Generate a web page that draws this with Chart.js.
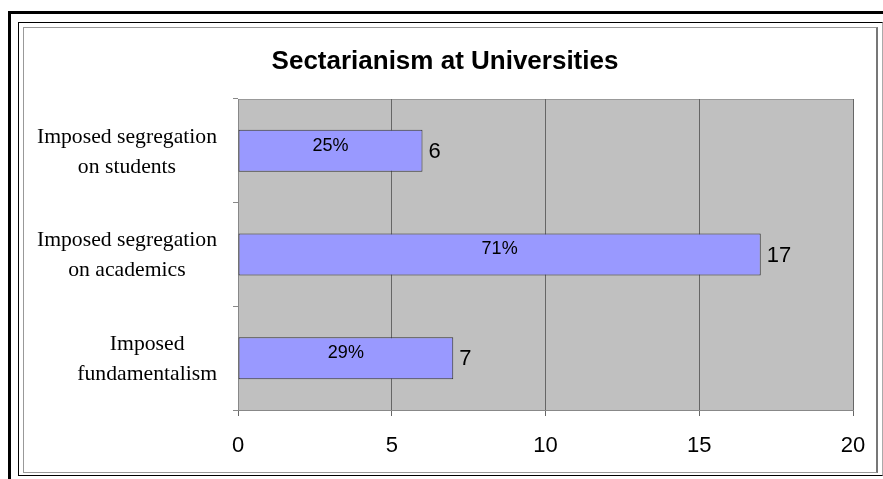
<!DOCTYPE html>
<html>
<head>
<meta charset="utf-8">
<script src="https://cdn.jsdelivr.net/npm/chart.js@4.4.1/dist/chart.umd.min.js"></script>
<style>
  body { margin: 0; background: #fff; }
  #wrap { position: relative; width: 883px; height: 479px; overflow: hidden; background: #fff; }
  .frame { position: absolute; box-sizing: border-box; }
  #f1 { left: 8px; top: 11px; width: 900px; height: 500px; border: 3px solid #000; }
  #f2 { left: 18px; top: 22px; width: 865px; height: 454px; border: 1px solid #000; border-right-color: #aaa; }
  #f3 { left: 23px; top: 27px; width: 855px; height: 446px; border: 1px solid #999; border-right: 2px solid #777; }
  #c { position: absolute; left: 0; top: 0; }
</style>
</head>
<body>
<div id="wrap">
  <div class="frame" id="f1"></div>
  <div class="frame" id="f2"></div>
  <div class="frame" id="f3"></div>
  <canvas id="c" width="883" height="479"></canvas>
</div>
<script>
// données du graphique
const categories = [
    ['Imposed segregation', 'on students'],
    ['Imposed segregation', 'on academics'],
    ['Imposed', 'fundamentalism']
];
const counts = [6, 17, 7];
const shares = ['25%', '71%', '29%'];
const xMin = 0, xMax = 20, xStep = 5;
const chartTitle = 'Sectarianism at Universities';

//Fond gris + bordure de la zone de tracé
const plotBg = {
    id: 'plotBg',
    beforeDraw(chart) {
        const { ctx, chartArea: a } = chart;
        ctx.save();
        ctx.fillStyle = '#c0c0c0';
        ctx.fillRect(a.left, a.top, a.right - a.left, a.bottom - a.top);
        ctx.strokeStyle = '#999';
        ctx.lineWidth = 1;
        ctx.beginPath();
        ctx.moveTo(a.left, a.top + 0.5);
        ctx.lineTo(a.right + 0.5, a.top + 0.5);
        ctx.lineTo(a.right + 0.5, a.bottom);
        ctx.stroke();
        ctx.restore();
    }
};

//Libellés des catégories (centrés dans un bloc calé à droite)
const catLabels = {
    id: 'catLabels',
    afterDraw(chart) {
        const { ctx, chartArea: a } = chart;
        const y = chart.scales.y;
        ctx.save();
        ctx.font = '21.7px "Liberation Serif", "Times New Roman", serif';
        ctx.fillStyle = '#000';
        ctx.textAlign = 'center';
        ctx.textBaseline = 'middle';
        const lh = 30;
        categories.forEach((lines, i) => {
            const cy = y.getPixelForValue(i) + 1;
            const w = Math.max(...lines.map(l => ctx.measureText(l).width));
            const cx = a.left - 21 - w / 2;
            const y0 = cy - (lines.length - 1) * lh / 2;
            lines.forEach((l, k) => ctx.fillText(l, cx, y0 + k * lh));
        });
        ctx.restore();
    }
};

//Etiquettes des barres : pourcentage dedans, valeur à droite
const barLabels = {
    id: 'barLabels',
    afterDatasetsDraw(chart) {
        const { ctx } = chart;
        const meta = chart.getDatasetMeta(0);
        ctx.save();
        ctx.fillStyle = '#000';
        ctx.textBaseline = 'middle';
        meta.data.forEach((bar, i) => {
            ctx.font = '18px "Liberation Sans", Arial, sans-serif';
            ctx.textAlign = 'center';
            ctx.fillText(shares[i], (bar.base + bar.x) / 2, bar.y - 5);
            ctx.font = '22px "Liberation Sans", Arial, sans-serif';
            ctx.textAlign = 'left';
            ctx.fillText(String(counts[i]), bar.x + 6, bar.y + 1);
        });
        ctx.restore();
    }
};

const ctx = document.getElementById('c').getContext('2d');
new Chart(ctx, {
    type: 'bar',
    data: {
        labels: categories.map(c => c.join(' ')),
        datasets: [{
            data: counts,
            backgroundColor: '#9999ff',
            borderColor: '#333',
            borderWidth: 1,
            borderSkipped: false,
            barPercentage: 0.405,
            categoryPercentage: 1
        }]
    },
    options: {
        indexAxis: 'y',
        responsive: false,
        animation: false,
        events: [],
        layout: { padding: { left: 37, right: 30, top: 0, bottom: 0 } },
        plugins: {
            legend: { display: false },
            tooltip: { enabled: false },
            title: {
                display: true,
                text: chartTitle,
                color: '#000',
                font: { family: '"Liberation Sans", Arial, sans-serif', size: 26, weight: 'bold', lineHeight: 1.2 },
                padding: { top: 46.4, bottom: 21.4 }
            }
        },
        scales: {
            x: {
                min: xMin,
                max: xMax,
                afterFit: s => { s.height = 69; },
                ticks: {
                    stepSize: xStep,
                    color: '#000',
                    padding: 17,
                    font: { family: '"Liberation Sans", Arial, sans-serif', size: 22 }
                },
                grid: { color: '#666', tickLength: 6, lineWidth: 1 },
                border: { color: '#888' }
            },
            y: {
                afterFit: s => { s.width = 201; },
                ticks: { display: false },
                grid: { drawOnChartArea: false, tickLength: 5, color: '#888', offset: true },
                border: { color: '#888' }
            }
        }
    },
    plugins: [plotBg, catLabels, barLabels]
});
</script>
</body>
</html>
